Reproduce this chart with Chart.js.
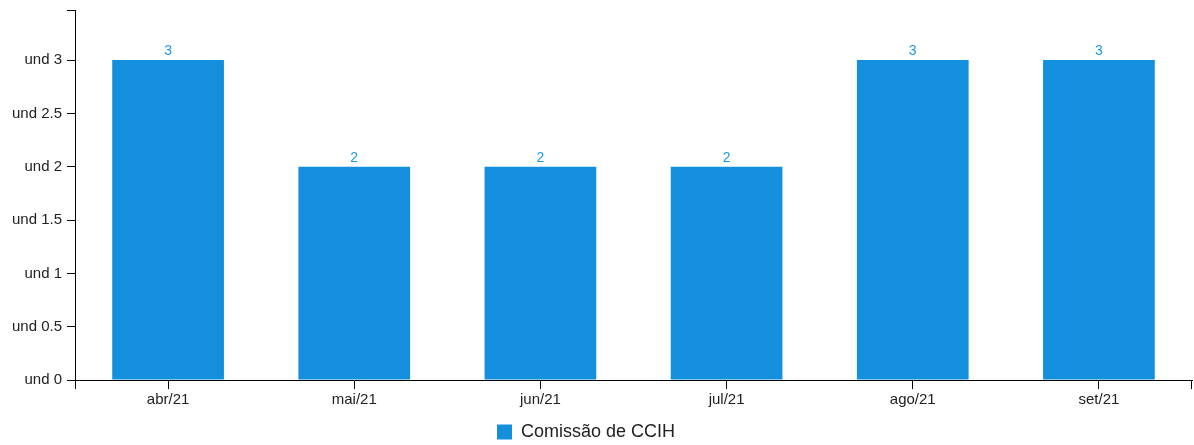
<!DOCTYPE html>
<html>
<head>
<meta charset="utf-8">
<script src="https://cdn.jsdelivr.net/npm/chart.js@4"></script>
<style>
html,body{margin:0;padding:0;background:#fff;}
#wrap{width:1194px;height:445px;position:relative;}
</style>
</head>
<body>
<div id="wrap"><canvas id="c" width="1194" height="445"></canvas></div>
<script>
const categories = ['abr/21','mai/21','jun/21','jul/21','ago/21','set/21'];
const seriesName = 'Comissão de CCIH';
const values = [3, 2, 2, 2, 3, 3];
const yTickValues = [0, 0.5, 1, 1.5, 2, 2.5, 3];
const yMax = 3.47;

const barColor = '#138fdd';
const labelColor = '#2497e6';
const textColor = '#222';
const font = 'Liberation Sans, Arial, sans-serif';

const valueLabels = {
  id: 'valueLabels',
  afterDatasetsDraw(chart) {
    const ctx = chart.ctx;
    const meta = chart.getDatasetMeta(0);
    ctx.save();
    ctx.fillStyle = labelColor;
    ctx.font = '14px ' + font;
    ctx.textAlign = 'center';
    ctx.textBaseline = 'alphabetic';
    meta.data.forEach((bar, i) => {
      ctx.fillText(String(values[i]), bar.x, bar.y - 5);
    });
    ctx.restore();
  }
};

const axisCaps = {
  id: 'axisCaps',
  afterLayout(chart) {
    const lg = chart.legend;
    if (lg) { lg.left -= 10; lg.right -= 10; lg.top += 7; lg.bottom += 7; }
  },
  afterDraw(chart) {
    const ctx = chart.ctx;
    const x = chart.scales.x;
    ctx.save();
    ctx.strokeStyle = '#000';
    ctx.lineWidth = 1;
    ctx.beginPath();
    ctx.moveTo(Math.round(x.left) + 0.5, x.top);
    ctx.lineTo(Math.round(x.left) + 0.5, x.top + 9);
    ctx.moveTo(Math.round(x.right) - 0.5, x.top);
    ctx.lineTo(Math.round(x.right) - 0.5, x.top + 9);
    ctx.stroke();
    ctx.restore();
  }
};

new Chart(document.getElementById('c'), {
  type: 'bar',
  data: {
    labels: categories,
    datasets: [{
      label: seriesName,
      data: values,
      backgroundColor: barColor,
      borderWidth: 0,
      barPercentage: 0.6,
      categoryPercentage: 1.0
    }]
  },
  options: {
    responsive: false,
    animation: false,
    layout: { padding: { top: 10, right: 2, left: 0, bottom: 1 } },
    plugins: {
      tooltip: { enabled: false },
      legend: {
        position: 'bottom',
        labels: {
          color: textColor,
          font: { size: 18, family: font },
          boxWidth: 15,
          boxHeight: 15,
          padding: 4
        }
      }
    },
    scales: {
      x: {
        offset: true,
        border: { display: true, color: '#000', width: 1 },
        grid: { display: true, offset: false, drawOnChartArea: false, drawTicks: true, tickLength: 9, color: '#000' },
        ticks: { color: textColor, font: { size: 15, family: font }, padding: 2, maxRotation: 0 },
        afterFit(s) { s.height = 32; s.paddingLeft = 0; s.paddingRight = 0; }
      },
      y: {
        min: 0,
        max: yMax,
        border: { display: true, color: '#000', width: 1 },
        grid: { display: true, drawOnChartArea: false, drawTicks: true, tickLength: 8, color: '#000' },
        afterBuildTicks(s) {
          s.ticks = yTickValues.map(v => ({ value: v })).concat([{ value: yMax }]);
        },
        ticks: {
          color: textColor,
          font: { size: 15, family: font },
          padding: 5,
          callback(v) { return v === yMax ? '' : 'und ' + v; }
        },
        afterFit(s) { s.width = 75; s.paddingTop = 0; s.paddingBottom = 0; }
      }
    }
  },
  plugins: [valueLabels, axisCaps]
});
</script>
</body>
</html>
